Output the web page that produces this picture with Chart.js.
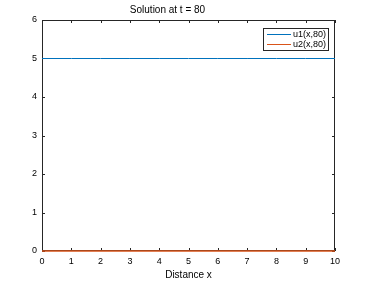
<!DOCTYPE html>
<html>
<head>
<meta charset="utf-8">
<script src="https://cdn.jsdelivr.net/npm/chart.js@4"></script>
<style>
  html, body { margin: 0; padding: 0; background: #fff; }
  #wrap { width: 372px; height: 285px; }
</style>
</head>
<body>
<div id="wrap"><canvas id="chart"></canvas></div>
<script>
"use strict";

const xValues = [0, 1, 2, 3, 4, 5, 6, 7, 8, 9, 10];
const u1Values = [5, 5, 5, 5, 5, 5, 5, 5, 5, 5, 5];
const u2Values = [0, 0, 0, 0, 0, 0, 0, 0, 0, 0, 0];
const seriesLabels = ["u1(x,80)", "u2(x,80)"];
const seriesColors = ["#0072BD", "#D95319"];

const fontFamily = "'Liberation Sans', Arial, sans-serif";
const axisColor = "#262626";

// box round the plot with inward ticks, like matlab
const boxPlugin = {
  id: "box",
  beforeDatasetsDraw(chart) {
    const { ctx, chartArea, scales } = chart;
    const { left, right, top, bottom } = chartArea;
    ctx.save();
    ctx.strokeStyle = axisColor;
    ctx.lineWidth = 1;
    ctx.strokeRect(left + 0.5, top + 0.5, right - left - 1, bottom - top - 1);
    ctx.beginPath();
    scales.x.ticks.forEach((t) => {
      const px = Math.round(scales.x.getPixelForValue(t.value)) + 0.5;
      ctx.moveTo(px, bottom);
      ctx.lineTo(px, bottom - 3);
      ctx.moveTo(px, top);
      ctx.lineTo(px, top + 3);
    });
    scales.y.ticks.forEach((t) => {
      const py = Math.round(scales.y.getPixelForValue(t.value)) + 0.5;
      ctx.moveTo(left, py);
      ctx.lineTo(left + 3, py);
      ctx.moveTo(right, py);
      ctx.lineTo(right - 3, py);
    });
    ctx.stroke();
    ctx.restore();
  },
  afterDraw(chart) {
    // legend inside the top right corner
    const { ctx, chartArea } = chart;
    const w = 66, h = 23;
    const x = chartArea.right - 6 - w;
    const y = chartArea.top + 8;
    ctx.save();
    ctx.fillStyle = "#fff";
    ctx.fillRect(x, y, w, h);
    ctx.strokeStyle = axisColor;
    ctx.lineWidth = 1;
    ctx.strokeRect(x + 0.5, y + 0.5, w - 1, h - 1);
    ctx.font = "9px " + fontFamily;
    ctx.textBaseline = "middle";
    chart.data.datasets.forEach((ds, i) => {
      const ly = y + 6.5 + i * 10;
      ctx.strokeStyle = ds.borderColor;
      ctx.beginPath();
      ctx.moveTo(x + 4, ly);
      ctx.lineTo(x + 28, ly);
      ctx.stroke();
      ctx.fillStyle = "#000";
      ctx.fillText(ds.label, x + 30, ly);
    });
    ctx.restore();
  },
};

const ctx = document.querySelector("#chart").getContext("2d");
const configuration = {
  type: "line",
  data: {
    datasets: [
      {
        label: seriesLabels[0],
        data: xValues.map((x, i) => ({ x: x, y: u1Values[i] })),
        borderColor: seriesColors[0],
        borderWidth: 1,
        pointRadius: 0,
      },
      {
        label: seriesLabels[1],
        data: xValues.map((x, i) => ({ x: x, y: u2Values[i] })),
        borderColor: seriesColors[1],
        borderWidth: 1.5,
        pointRadius: 0,
        clip: 2,
      },
    ],
  },
  options: {
    responsive: true,
    maintainAspectRatio: false,
    animation: false,
    layout: {
      padding: { left: 0, right: 37, top: 0, bottom: 0 },
    },
    plugins: {
      legend: { display: false },
      tooltip: { enabled: false },
      title: {
        display: true,
        text: "Solution at t = 80",
        color: "#000",
        font: { family: fontFamily, size: 10, weight: "normal" },
        padding: { top: 4, bottom: 4 },
      },
    },
    scales: {
      x: {
        type: "linear",
        min: 0,
        max: 10,
        grid: { display: false, drawTicks: false },
        border: { display: false },
        ticks: {
          stepSize: 1,
          color: "#000",
          padding: 5,
          font: { family: fontFamily, size: 9 },
        },
        title: {
          display: true,
          text: "Distance x",
          color: "#000",
          font: { family: fontFamily, size: 10 },
          padding: { top: 2, bottom: 4 },
        },
        afterFit(scale) {
          scale.height = 34;
        },
      },
      y: {
        min: 0,
        max: 6,
        grid: { display: false, drawTicks: false },
        border: { display: false },
        ticks: {
          stepSize: 1,
          color: "#000",
          padding: 5,
          font: { family: fontFamily, size: 9 },
        },
        afterFit(scale) {
          scale.width = 42;
        },
      },
    },
  },
  plugins: [boxPlugin],
};
const chart = new Chart(ctx, configuration);
</script>
</body>
</html>
